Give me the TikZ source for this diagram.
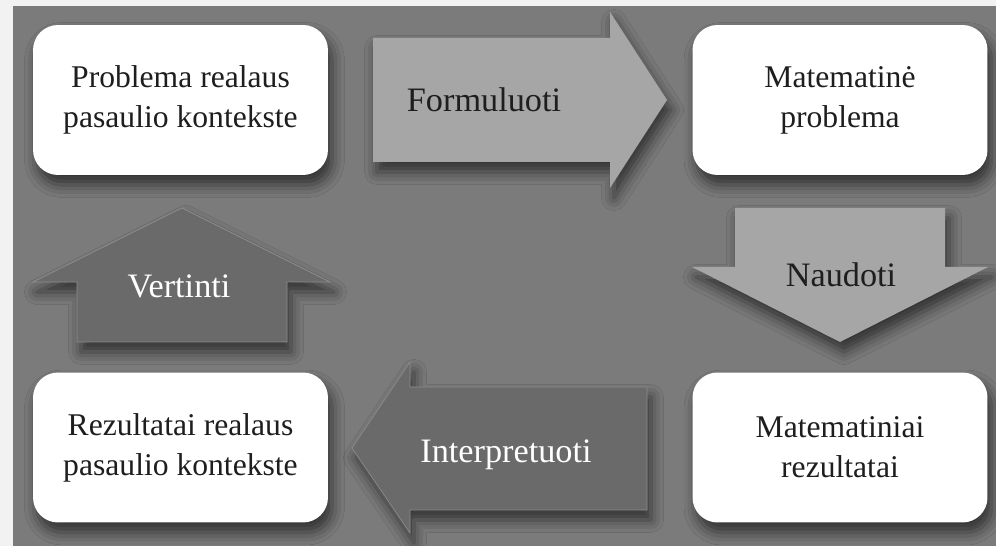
\documentclass[tikz,border=0pt]{standalone}
\usepackage{fontspec}
\setmainfont{Liberation Serif}
\usetikzlibrary{shadows.blur}
\definecolor{bggray}{HTML}{7B7B7B}
\definecolor{lightarrow}{HTML}{A6A6A6}
\definecolor{darkarrow}{HTML}{6A6A6A}
\definecolor{arrowedge}{HTML}{8C8C8C}
\definecolor{txtdark}{HTML}{1E1E1E}

\begin{document}
\begin{tikzpicture}[x=0.02cm, y=-0.02cm,
  softshadow/.style={blur shadow={shadow xshift=0.08cm, shadow yshift=-0.2cm, shadow blur radius=0.25cm, shadow opacity=60}},
  box/.style={rectangle, rounded corners=0.5cm, fill=white, minimum width=5.9cm, minimum height=3cm,
    align=center, text=txtdark, font=\fontsize{18}{22.8}\selectfont, softshadow},
  lightblock/.style={fill=lightarrow, softshadow},
  darkblock/.style={fill=darkarrow, draw=arrowedge, line width=0.4pt, softshadow},
  darklabel/.style={anchor=base, text=white, font=\fontsize{19.5}{24}\selectfont},
  lightlabel/.style={anchor=base, text=txtdark, font=\fontsize{19.5}{24}\selectfont}]
  % background
  \fill[white!95!black] (0,0) rectangle (996,546);
  \fill[bggray] (13,6) rectangle (996,546);
  \useasboundingbox (0,0) rectangle (996,546);

  % block arrows
  \path[lightblock] (373,38) -- (610,38) -- (610,12) -- (667,100) -- (610,188) -- (610,162) -- (373,162) -- cycle;
  \path[lightblock] (735,208) -- (945,208) -- (945,267) -- (988,267) -- (840,342) -- (692,267) -- (735,267) -- cycle;
  \path[darkblock] (647,387) -- (410,387) -- (410,362) -- (352,448) -- (410,533) -- (410,510) -- (647,510) -- cycle;
  \path[darkblock] (77,342) -- (77,282) -- (33,282) -- (182,208) -- (330,282) -- (287,282) -- (287,342) -- cycle;

  \node[lightlabel] (formulate) at (484,112) {Formuluoti};
  \node[lightlabel] (apply) at (841,287) {Naudoti};
  \node[darklabel] (interpret) at (506,462) {Interpretuoti};
  \node[darklabel] (evaluate) at (179,298) {Vertinti};

  % boxes
  \node[box] (realprob) at (180.5,100) {Problema realaus\\pasaulio kontekste};
  \node[box] (mathprob) at (840,100) {Matematinė\\problema};
  \node[box] (mathres) at (840,447.5) {Matematiniai\\rezultatai};
  \node[box] (realres) at (180.5,447.5) {Rezultatai realaus\\pasaulio kontekste};
\end{tikzpicture}
\end{document}
